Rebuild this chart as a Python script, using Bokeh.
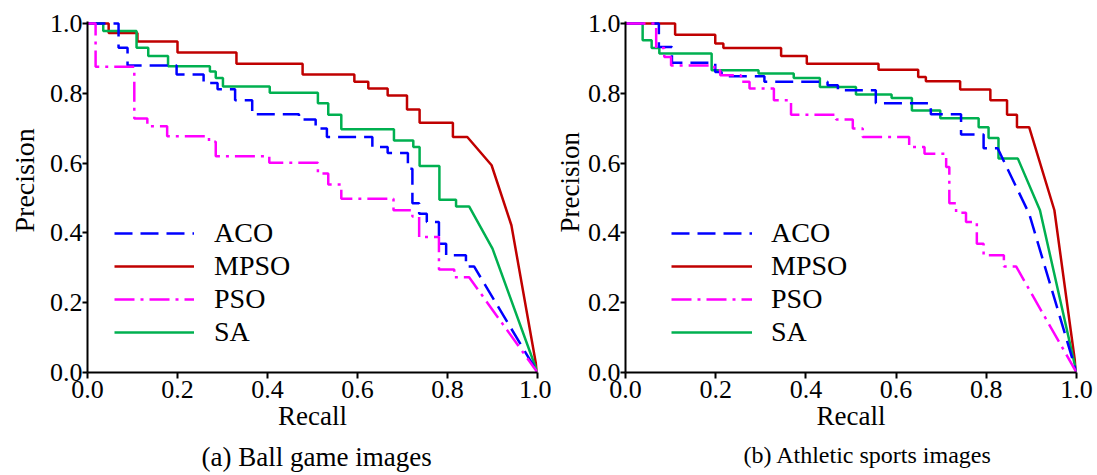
from bokeh.plotting import figure
from bokeh.models import (Range1d, FixedTicker, PrintfTickFormatter, Legend,
                          LegendItem, Title)
from bokeh.layouts import row
from bokeh.embed import file_html
from bokeh.resources import INLINE

# ---------------- data: (a) Ball game images ----------------
# staircase curves: precision level holds until recall "end", then drops to next level
a_aco_ends = [0.069, 0.089, 0.198, 0.258, 0.289, 0.328, 0.366, 0.47, 0.507, 0.532,
              0.633, 0.667, 0.712, 0.722, 0.737, 0.754, 0.781, 0.797, 0.841, 0.859]
a_aco_levels = [1.0, 0.931, 0.88, 0.854, 0.83, 0.812, 0.78, 0.74, 0.725, 0.699,
                0.675, 0.646, 0.629, 0.584, 0.485, 0.455, 0.431, 0.369, 0.336, 0.304]
a_aco_tail_r = [1.0]
a_aco_tail_p = [0.0]

a_mpso_ends = [0.047, 0.111, 0.2, 0.331, 0.478, 0.593, 0.624, 0.667, 0.71, 0.738, 0.812, 0.844]
a_mpso_levels = [1.0, 0.973, 0.949, 0.917, 0.885, 0.854, 0.833, 0.814, 0.794, 0.754, 0.716, 0.675]
a_mpso_tail_r = [0.898, 0.942, 1.0]
a_mpso_tail_p = [0.594, 0.422, 0.0]

a_pso_ends = [0.018, 0.104, 0.133, 0.177, 0.27, 0.285, 0.404, 0.512, 0.535, 0.564,
              0.68, 0.722, 0.737, 0.781, 0.815, 0.848]
a_pso_levels = [1.0, 0.876, 0.728, 0.706, 0.677, 0.661, 0.62, 0.601, 0.57, 0.539,
                0.498, 0.465, 0.447, 0.388, 0.295, 0.273]
a_pso_tail_r = [1.0]
a_pso_tail_p = [0.0]

a_sa_ends = [0.035, 0.109, 0.135, 0.179, 0.272, 0.285, 0.301, 0.405, 0.512, 0.535,
             0.564, 0.681, 0.724, 0.738, 0.782, 0.819, 0.848]
a_sa_levels = [1.0, 0.979, 0.931, 0.907, 0.878, 0.863, 0.844, 0.82, 0.802, 0.772,
               0.739, 0.697, 0.665, 0.646, 0.592, 0.495, 0.476]
a_sa_tail_r = [0.9, 1.0]
a_sa_tail_p = [0.355, 0.0]

# ---------------- data: (b) Athletic sports images ----------------
b_aco_ends = [0.074, 0.103, 0.199, 0.213, 0.308, 0.448, 0.471, 0.555, 0.677, 0.744, 0.794, 0.825]
b_aco_levels = [1.0, 0.933, 0.888, 0.861, 0.849, 0.833, 0.823, 0.809, 0.772, 0.74, 0.682, 0.643]
b_aco_tail_r = [0.895, 1.0]
b_aco_tail_p = [0.455, 0.0]

b_mpso_ends = [0.11, 0.199, 0.217, 0.345, 0.402, 0.561, 0.649, 0.666, 0.742, 0.809, 0.846, 0.868, 0.895]
b_mpso_levels = [1.0, 0.968, 0.943, 0.93, 0.907, 0.885, 0.868, 0.847, 0.835, 0.811, 0.78, 0.739, 0.703]
b_mpso_tail_r = [0.951, 1.0]
b_mpso_tail_p = [0.465, 0.0]

b_pso_ends = [0.068, 0.086, 0.101, 0.197, 0.21, 0.256, 0.275, 0.329, 0.367, 0.467, 0.504,
              0.526, 0.629, 0.663, 0.711, 0.718, 0.733, 0.755, 0.779, 0.794, 0.839, 0.866]
b_pso_levels = [1.0, 0.93, 0.904, 0.88, 0.866, 0.852, 0.833, 0.814, 0.78, 0.739, 0.725,
                0.699, 0.675, 0.646, 0.627, 0.589, 0.485, 0.458, 0.431, 0.369, 0.336, 0.304]
b_pso_tail_r = [1.0]
b_pso_tail_p = [0.0]

b_sa_ends = [0.038, 0.058, 0.075, 0.191, 0.295, 0.373, 0.431, 0.511, 0.59, 0.635,
             0.698, 0.783, 0.805, 0.827, 0.87]
b_sa_levels = [1.0, 0.952, 0.93, 0.914, 0.866, 0.857, 0.844, 0.818, 0.797, 0.787,
               0.751, 0.729, 0.703, 0.672, 0.613]
b_sa_tail_r = [0.919, 1.0]
b_sa_tail_p = [0.465, 0.0]

tick_values = [0.0, 0.2, 0.4, 0.6, 0.8, 1.0]
series_names = ["ACO", "MPSO", "PSO", "SA"]
captions = ["(a) Ball game images", "(b) Athletic sports images"]

FONT = "Liberation Serif"
STYLES = {
    "ACO": dict(line_color="#0000FF", line_dash="18 8", line_width=2.5),
    "MPSO": dict(line_color="#C00000", line_dash="solid", line_width=2.5),
    "PSO": dict(line_color="#FF00FF", line_dash="20 6 3 6", line_width=2.5),
    "SA": dict(line_color="#00B050", line_dash="solid", line_width=2.5),
}


def staircase(ends, levels, tail_r, tail_p):
    xs, ys = [0.0], [levels[0]]
    for i, (r, lv) in enumerate(zip(ends, levels)):
        xs.append(r)
        ys.append(lv)
        if i + 1 < len(levels):
            xs.append(r)
            ys.append(levels[i + 1])
    xs += list(tail_r)
    ys += list(tail_p)
    return xs, ys


def make_panel(curves, caption, cap_size, cap_offset, border_left, frame_w, border_right,
               legend_x, glyph_w, standoff, ytitle_size, ytitle_standoff):
    p = figure(frame_width=frame_w, frame_height=351,
               min_border_left=border_left, min_border_right=border_right,
               min_border_top=21, min_border_bottom=103,
               x_range=Range1d(0, 1.0), y_range=Range1d(0, 1.006),
               output_backend="svg", toolbar_location=None, title=None)
    p.outline_line_color = None
    p.xgrid.visible = False
    p.ygrid.visible = False
    p.background_fill_color = "white"
    p.border_fill_color = "white"

    for ax in (p.xaxis[0], p.yaxis[0]):
        ax.ticker = FixedTicker(ticks=tick_values)
        ax.formatter = PrintfTickFormatter(format="%.1f")
        ax.axis_line_width = 2
        ax.axis_line_color = "black"
        ax.major_tick_line_width = 2
        ax.major_tick_in = 0
        ax.major_tick_out = 5
        ax.minor_tick_line_color = None
        ax.major_label_text_font = FONT
        ax.major_label_text_font_size = "26px"
        ax.major_label_text_color = "black"
        ax.axis_label_text_font = FONT
        ax.axis_label_text_font_size = "27px"
        ax.axis_label_text_font_style = "normal"
        ax.axis_label_text_color = "black"
    p.xaxis.axis_label = "Recall"
    p.xaxis.major_tick_out = 6
    p.xaxis.major_label_standoff = 2
    p.xaxis.axis_label_standoff = 0
    p.yaxis.major_label_standoff = 0

    renderers = {}
    for name in ["MPSO", "SA", "ACO", "PSO"]:
        xs, ys = curves[name]
        renderers[name] = p.line(xs, ys, **STYLES[name])

    legend = Legend(items=[LegendItem(label=n, renderers=[renderers[n]]) for n in series_names],
                    location=(legend_x, 24), padding=0, margin=0, spacing=1,
                    glyph_width=glyph_w, glyph_height=30, label_height=30,
                    label_standoff=standoff, border_line_color=None,
                    background_fill_alpha=0, label_text_font=FONT,
                    label_text_font_size="28px", label_text_color="black")
    p.add_layout(legend)

    ytitle = Title(text="Precision", align="left", offset=140, standoff=ytitle_standoff,
                   text_font=FONT, text_font_size=ytitle_size, text_font_style="normal",
                   text_color="black")
    p.add_layout(ytitle, "left")

    cap = Title(text=caption, align="left", offset=cap_offset, standoff=12,
                text_font=FONT, text_font_size=cap_size, text_font_style="normal",
                text_color="black")
    p.add_layout(cap, "below")
    return p


curves_a = {
    "ACO": staircase(a_aco_ends, a_aco_levels, a_aco_tail_r, a_aco_tail_p),
    "MPSO": staircase(a_mpso_ends, a_mpso_levels, a_mpso_tail_r, a_mpso_tail_p),
    "PSO": staircase(a_pso_ends, a_pso_levels, a_pso_tail_r, a_pso_tail_p),
    "SA": staircase(a_sa_ends, a_sa_levels, a_sa_tail_r, a_sa_tail_p),
}
curves_b = {
    "ACO": staircase(b_aco_ends, b_aco_levels, b_aco_tail_r, b_aco_tail_p),
    "MPSO": staircase(b_mpso_ends, b_mpso_levels, b_mpso_tail_r, b_mpso_tail_p),
    "PSO": staircase(b_pso_ends, b_pso_levels, b_pso_tail_r, b_pso_tail_p),
    "SA": staircase(b_sa_ends, b_sa_levels, b_sa_tail_r, b_sa_tail_p),
}

p1 = make_panel(curves_a, captions[0], "27px", 114, 87, 450, 14, 27, 80, 20, "28px", 13)
p2 = make_panel(curves_b, captions[1], "24px", 118, 74, 451, 21, 46, 81, 19, "27px", 0)

layout = row(p1, p2, spacing=0)
open("out.html", "w").write(file_html(layout, INLINE))
